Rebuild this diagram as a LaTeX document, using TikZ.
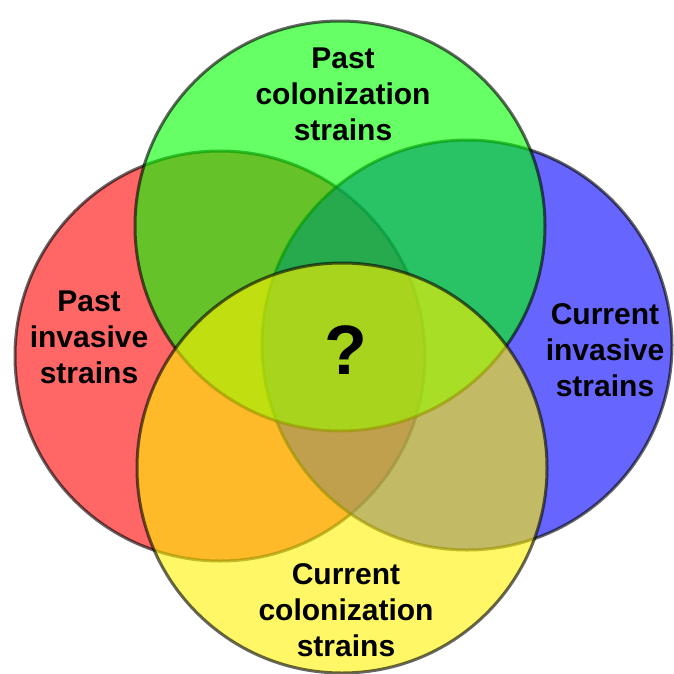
\documentclass[tikz,border=0pt]{standalone}
\usepackage{fontspec}
\setmainfont{Liberation Sans}
\begin{document}
\begin{tikzpicture}[x=1pt,y=-1pt,
  venn/.style={circle,minimum size=410pt,inner sep=0pt,draw=black,line width=3pt,opacity=0.6},
  lbl/.style={align=center,font=\fontsize{30}{36}\selectfont\bfseries,text=black}]
\useasboundingbox (0,0) rectangle (674,673);
\node[venn,fill=red] (red) at (220,356) {};
\node[venn,fill=blue] (blue) at (467,345) {};
\node[venn,fill=green] (green) at (340,226) {};
\node[venn,fill=yellow] (yellow) at (342,468) {};
\node[lbl] (tl) at (343,94) {Past\\colonization\\strains};
\node[lbl] (ll) at (89,337) {Past\\invasive\\strains};
\node[lbl] (rl) at (605,350) {Current\\invasive\\strains};
\node[lbl] (bl) at (346,610) {Current\\colonization\\strains};
\node[font=\fontsize{70}{74}\selectfont\bfseries] (q) at (346,350) {?};
\end{tikzpicture}
\end{document}
